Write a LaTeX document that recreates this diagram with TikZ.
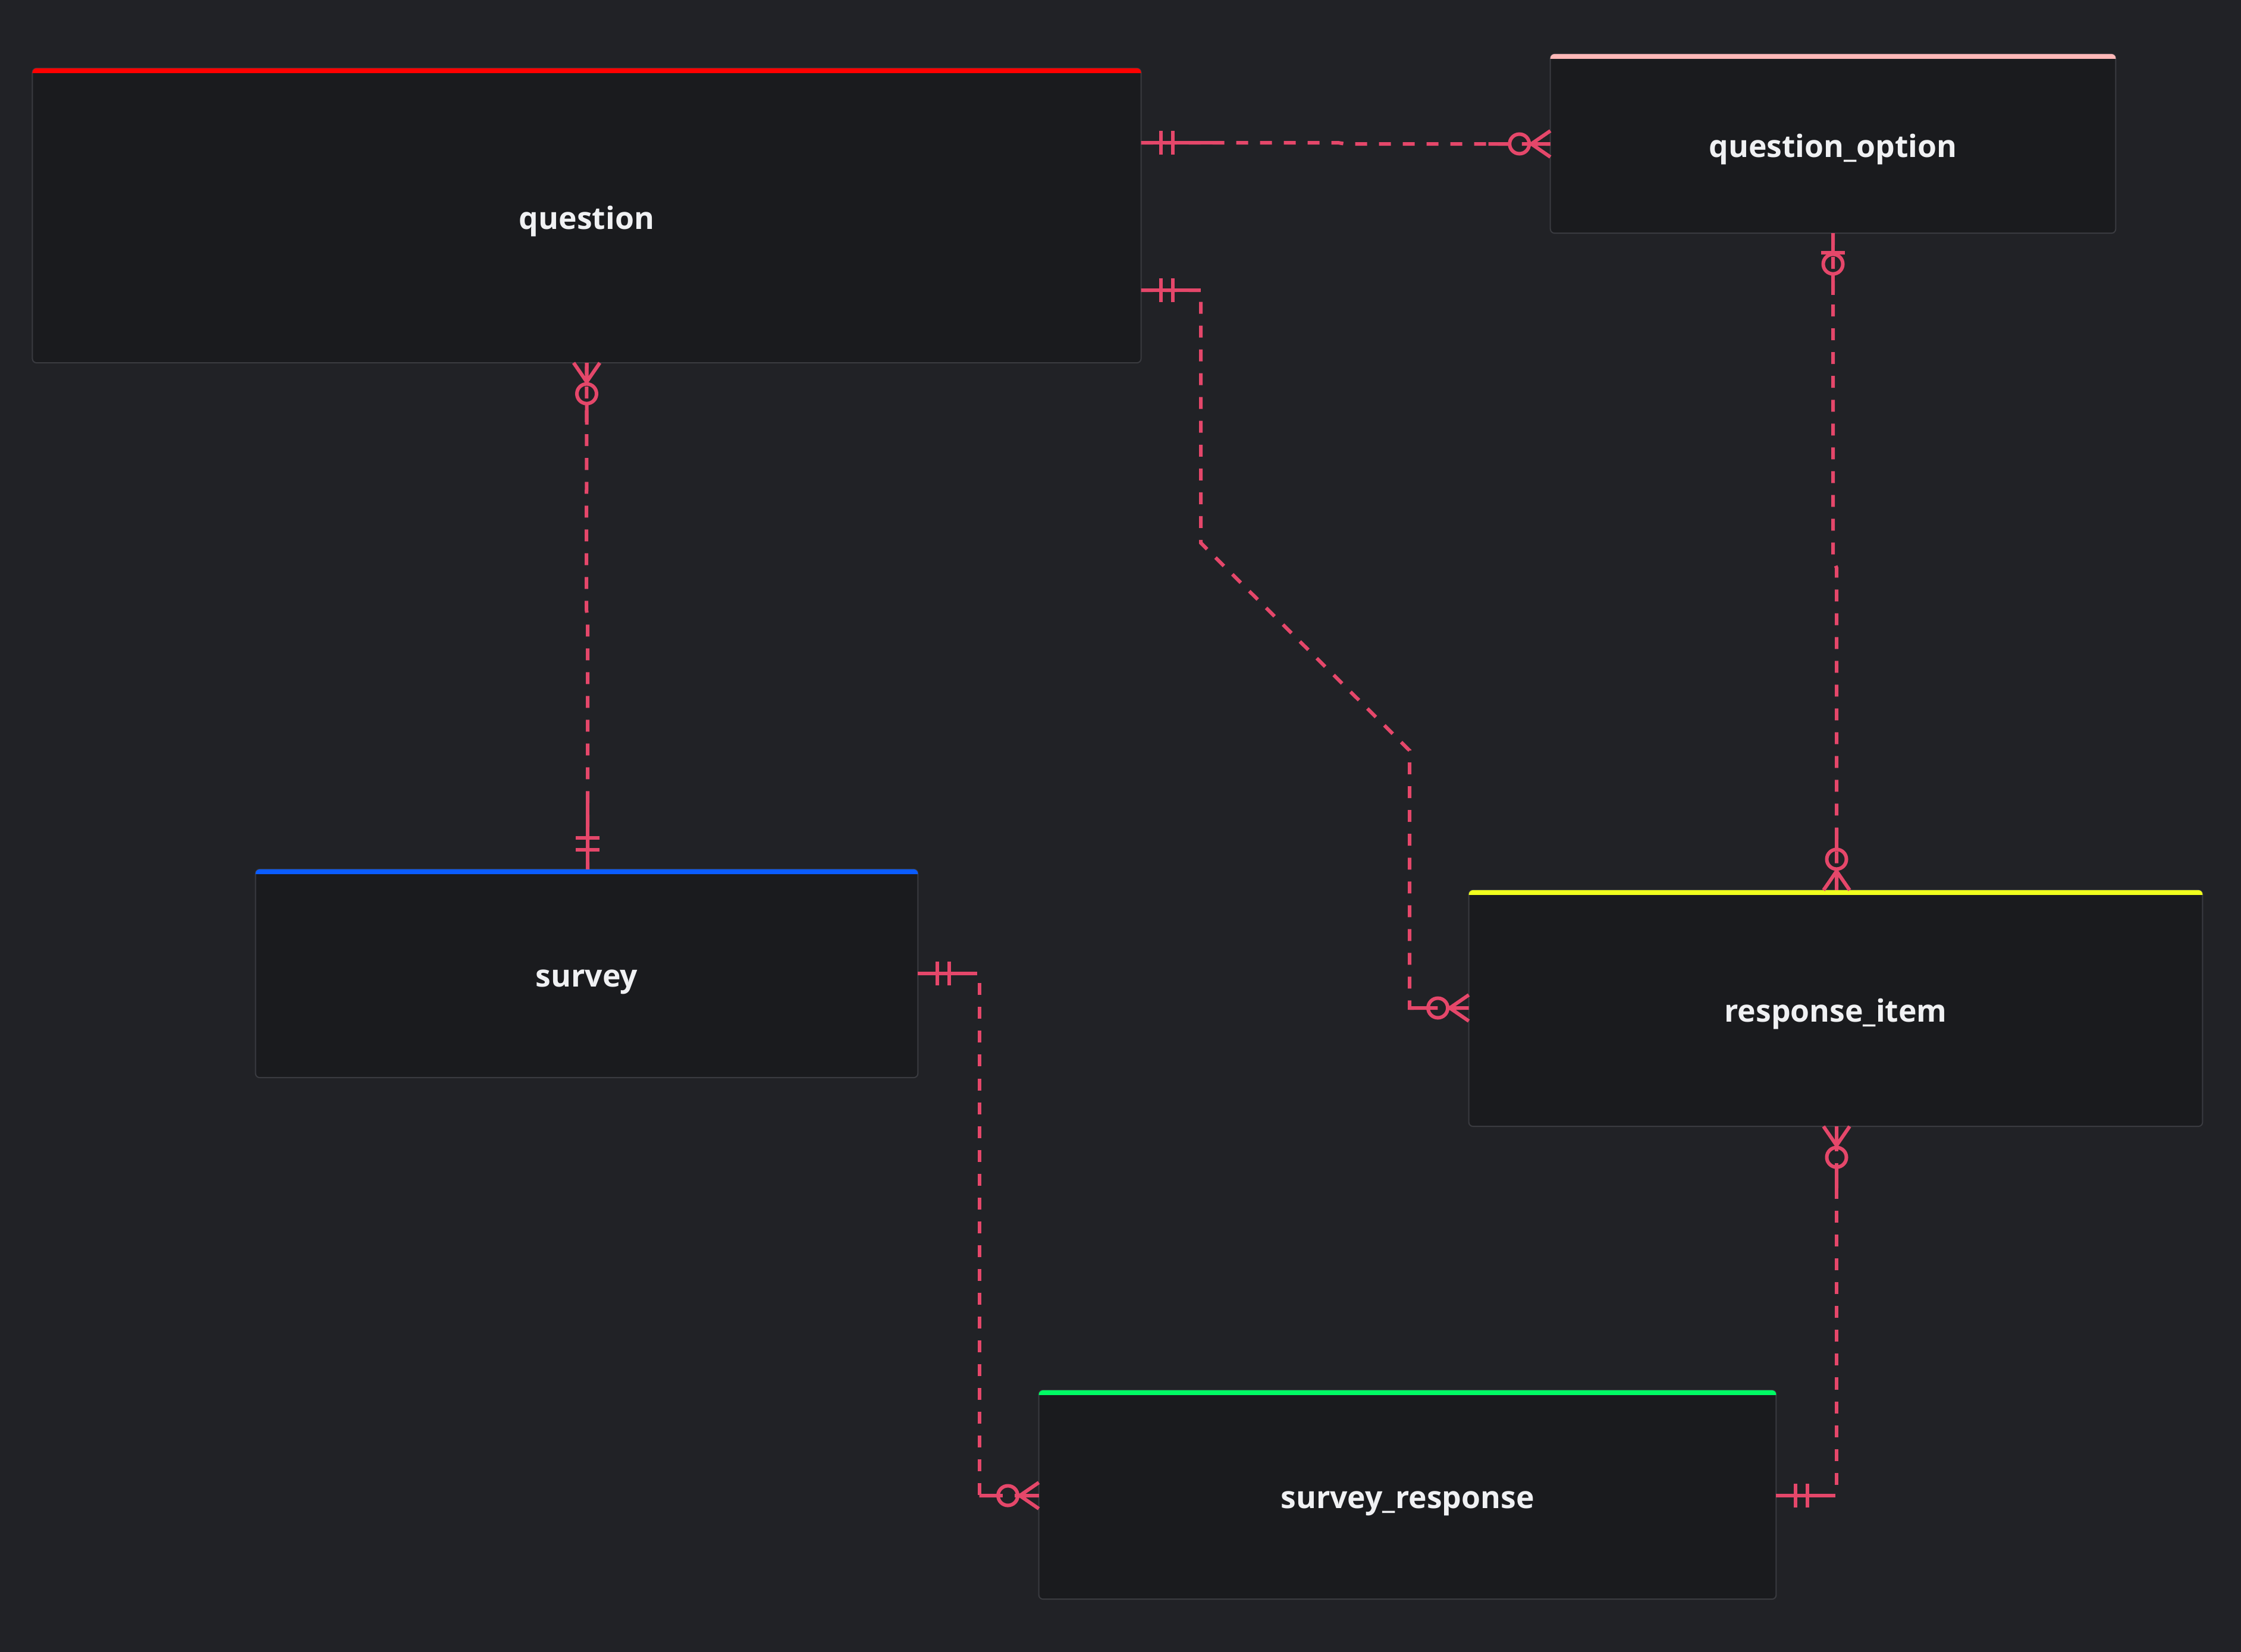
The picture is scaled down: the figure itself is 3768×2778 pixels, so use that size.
\documentclass[tikz,border=0pt]{standalone}
\usepackage{fontspec}
\setmainfont{Open Sans}
\usetikzlibrary{calc}

\definecolor{bg}{HTML}{212226}
\definecolor{boxfill}{HTML}{1A1B1E}
\definecolor{boxline}{HTML}{3A3B40}
\definecolor{label}{HTML}{F0F1F3}
\definecolor{relcol}{HTML}{E5476A}
\definecolor{barred}{HTML}{FF0000}
\definecolor{barpink}{HTML}{FFB8B8}
\definecolor{barblue}{HTML}{0A5CFF}
\definecolor{baryellow}{HTML}{F0FF1E}
\definecolor{bargreen}{HTML}{00FA64}

\begin{document}
\begin{tikzpicture}[x=0.01cm,y=-0.01cm,
  entity/.style={draw=boxline, fill=boxfill, line width=0.02cm,
    rounded corners=0.07cm, inner sep=0pt, outer sep=0pt, text=label,
    text height=12.8pt, text depth=0pt,
    font=\bfseries\fontsize{14.7}{17}\selectfont},
  rel/.style={draw=relcol, line width=0.06cm, dash pattern=on 0.2cm off 0.2cm},
  relsolid/.style={draw=relcol, line width=0.06cm, solid},
  % exactly one: two bars, solid lead-in
  mandone/.pic={
    \draw[relsolid] (0,0) -- (120,0);
    \draw[relsolid] (33,-20) -- (33,20) (53,-20) -- (53,20);},
  mandonecorner/.pic={
    \draw[relsolid] (0,0) -- (100,0);
    \draw[relsolid] (33,-20) -- (33,20) (53,-20) -- (53,20);},
  % zero or many: crow's foot plus ring
  zeromany/.pic={
    \draw[relsolid] (0,-22) -- (32,0) -- (0,22) (0,0) -- (36,0) (68,0) -- (104,0);
    \draw[relsolid] (52,0) circle[radius=0.165cm];},
  zeromanycorner/.pic={
    \draw[relsolid] (0,-22) -- (32,0) -- (0,22) (0,0) -- (36,0) (68,0) -- (100,0);
    \draw[relsolid] (52,0) circle[radius=0.165cm];},
  % zero or one: bar plus ring
  zeroone/.pic={
    \draw[relsolid] (0,0) -- (36,0) (68,0) -- (104,0);
    \draw[relsolid] (33,-20) -- (33,20);
    \draw[relsolid] (52,0) circle[radius=0.165cm];}
]
\fill[bg] (0,0) rectangle (3768,2778);
\useasboundingbox (0,0) rectangle (3768,2778);

% entities
\node[entity, minimum width=18.63cm, minimum height=4.95cm] (q)  at (986.5,362.5) {question};
\node[entity, minimum width=9.50cm,  minimum height=3.01cm] (qo) at (3082,241.5) {question\_option};
\node[entity, minimum width=11.13cm, minimum height=3.50cm] (s)  at (986.5,1637) {survey};
\node[entity, minimum width=12.33cm, minimum height=3.97cm] (ri) at (3086.5,1695.5) {response\_item};
\node[entity, minimum width=12.39cm, minimum height=3.51cm] (sr) at (2366.5,2513.5) {survey\_response};

% coloured header strips
\foreach \n/\c in {q/barred, qo/barpink, s/barblue, ri/baryellow, sr/bargreen}
  \fill[\c] ($(\n.north west)+(0,8)$) [rounded corners=0.07cm] -- (\n.north west)
     -- (\n.north east) [sharp corners] -- ($(\n.north east)+(0,8)$) -- cycle;

% relationships (dashed bodies)
\coordinate (c1a) at (q.east |- 0,240);
\coordinate (c4a) at (q.east |- 0,488);
\draw[rel] (c1a) -- (2250,240) -- (2262,242) -- (qo.west |- 0,242);
\draw[rel] (c4a) -- (2019,488) -- (2019,913) -- (2370,1262) -- (2370,1695) -- (ri.west |- 0,1695);
\draw[rel] (q.south) -- (986,1025) -- (988,1040) -- (s.north -| 988,0);
\draw[rel] (qo.south) -- (3082,940) -- (3088,955) -- (ri.north -| 3088,0);
\draw[rel] (s.east) -- (1647,1637) -- (1647,2515) -- (sr.west |- 0,2515);
\draw[rel] (sr.east |- 0,2515) -- (3088,2515) -- (ri.south -| 3088,0);

% cardinality markers
\pic at (c1a) {mandone};
\pic[rotate=180] at (qo.west |- 0,242) {zeromany};
\pic at (c4a) {mandonecorner};
\pic[rotate=180] at (ri.west |- 0,1695) {zeromanycorner};
\pic[rotate=-90] at (q.south) {zeromany};
\pic[rotate=90] at (s.north -| 988,0) {mandone};
\pic[rotate=-90] at (qo.south) {zeroone};
\pic[rotate=90] at (ri.north -| 3088,0) {zeromany};
\pic at (s.east) {mandonecorner};
\pic[rotate=180] at (sr.west |- 0,2515) {zeromanycorner};
\pic at (sr.east |- 0,2515) {mandonecorner};
\pic[rotate=-90] at (ri.south -| 3088,0) {zeromany};
\end{tikzpicture}
\end{document}
